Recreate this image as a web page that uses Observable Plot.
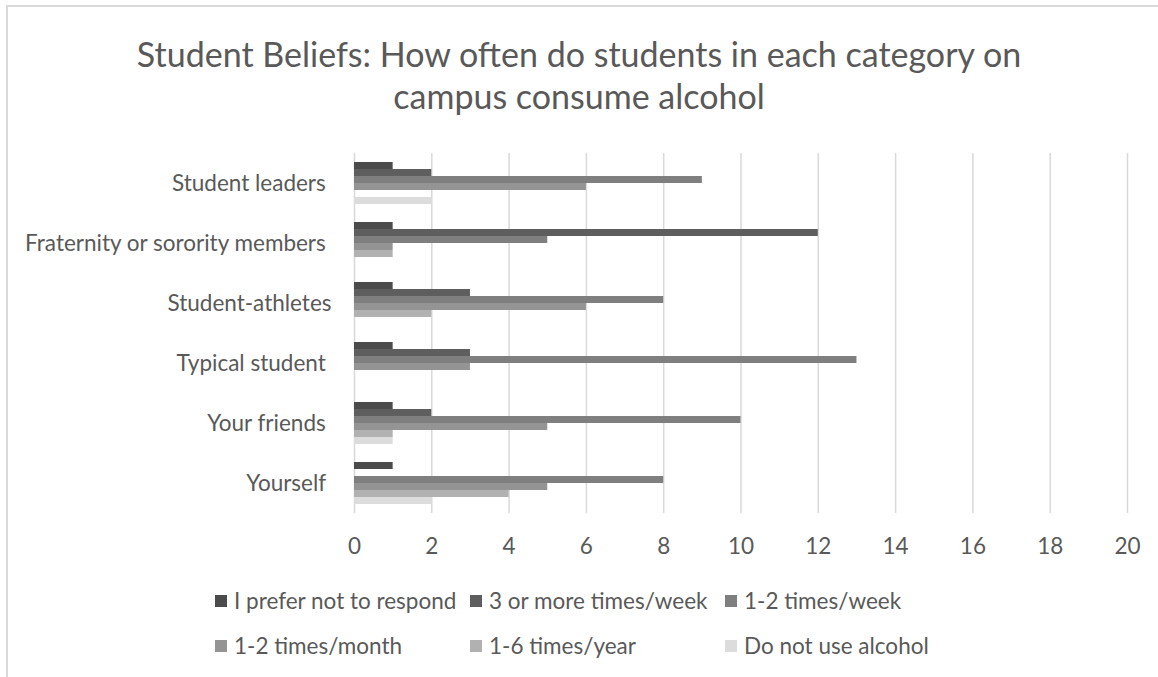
<!DOCTYPE html>
<html>
<head>
<meta charset="utf-8">
<script src="https://cdn.jsdelivr.net/npm/d3@7"></script>
<script src="https://cdn.jsdelivr.net/npm/@observablehq/plot@0.6"></script>
<style>
  html, body { margin: 0; padding: 0; background: #fff; }
  body { width: 1158px; height: 677px; position: relative; overflow: hidden; font-family: Lato, "Open Sans", sans-serif; color: #595959; }
  #frame { position: absolute; left: 6px; top: 5px; width: 1160px; height: 680px; border-top: 2px solid #d9d9d9; border-left: 2px solid #d9d9d9; }
  #title { position: absolute; left: 0; top: 33px; width: 1158px; text-align: center; font-size: 34px; line-height: 42px; color: #595959; }
  #chart { position: absolute; left: 0; top: 130px; }
  #chart svg text { white-space: pre; }
  #legend { position: absolute; left: 215px; top: 588px; display: grid; grid-template-columns: 255px 255px 255px; row-gap: 19px; font-size: 22.5px; line-height: 26px; color: #595959; }
  .item { display: flex; align-items: center; white-space: nowrap; }
  .sw { width: 12px; height: 12px; margin-right: 7px; flex: none; }
</style>
</head>
<body>
<div id="frame"></div>
<div id="title">Student Beliefs: How often do students in each category on<br>campus consume alcohol</div>
<div id="chart"></div>
<div id="legend"></div>
<script>
// Categories (top to bottom), as labelled in the reference
const categories = ["Student leaders ", "Fraternity or sorority members ", "Student-athletes", "Typical student ", "Your friends ", "Yourself "];
// Series (top to bottom within each group)
const series = ["I prefer not to respond", "3 or more times/week", "1-2 times/week", "1-2 times/month", "1-6 times/year", "Do not use alcohol"];
// Values per series, in category order
const preferNot   = [1, 1, 1, 1, 1, 1];
const threePlus   = [2, 12, 3, 3, 2, 0];
const oneTwoWeek  = [9, 5, 8, 13, 10, 8];
const oneTwoMonth = [6, 1, 6, 3, 5, 5];
const oneSixYear  = [0, 1, 2, 0, 1, 4];
const doNotUse    = [2, 0, 0, 0, 1, 2];
const seriesColors = ["#4b4b4b", "#5e5e5e", "#7f7f7f", "#949494", "#b1b1b1", "#dcdcdc"];
const xTicks = [0, 2, 4, 6, 8, 10, 12, 14, 16, 18, 20];

const valueLists = [preferNot, threePlus, oneTwoWeek, oneTwoMonth, oneSixYear, doNotUse];
const rows = [];
categories.forEach((c, i) => series.forEach((s, j) => rows.push({category: c, series: s, value: valueLists[j][i]})));

const chart = Plot.plot({
  width: 1158,
  height: 430,
  marginLeft: 354,
  marginRight: 31,
  marginTop: 20,
  marginBottom: 45,
  style: {fontFamily: "Lato, 'Open Sans', sans-serif", fontSize: "22.5px", color: "#595959", background: "transparent", overflow: "visible"},
  x: {domain: [0, 20], ticks: xTicks, tickSize: 0, tickPadding: 25, label: null, tickFormat: d => String(d)},
  fy: {domain: categories, padding: 0, axis: "left", tickSize: 0, tickPadding: 23, label: null},
  y: {domain: series, paddingInner: 0, paddingOuter: 0.96, axis: null},
  color: {domain: series, range: seriesColors},
  marks: [
    Plot.ruleX(xTicks, {stroke: "#d9d9d9", strokeWidth: 1.5, strokeOpacity: 1}),
    Plot.barX(rows, {x: "value", y: "series", fy: "category", fill: "series"})
  ]
});
document.getElementById("chart").appendChild(chart);

const legend = document.getElementById("legend");
series.forEach((s, j) => {
  const item = document.createElement("div");
  item.className = "item";
  const sw = document.createElement("span");
  sw.className = "sw";
  sw.style.background = seriesColors[j];
  const t = document.createElement("span");
  t.textContent = s;
  item.appendChild(sw);
  item.appendChild(t);
  legend.appendChild(item);
});
</script>
</body>
</html>
